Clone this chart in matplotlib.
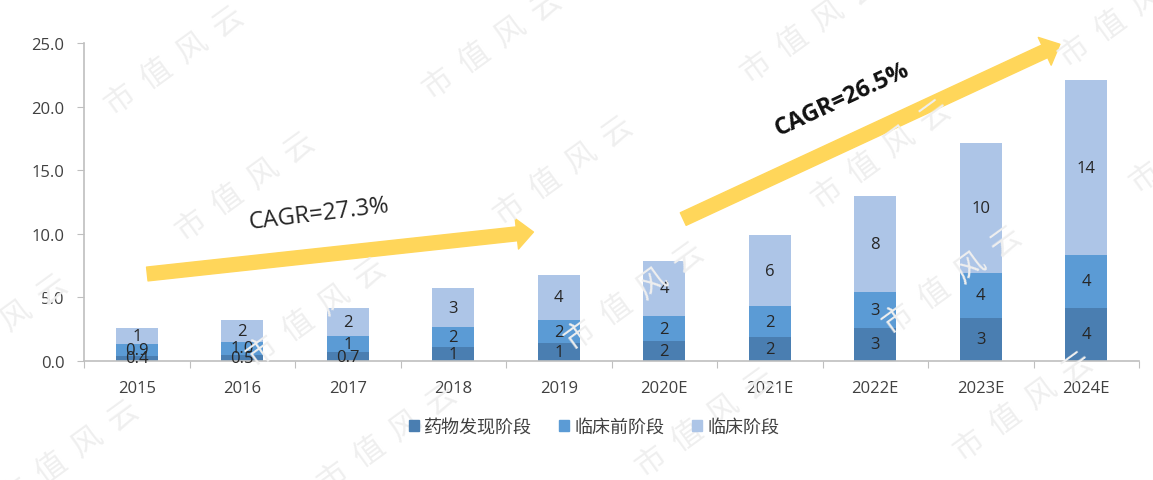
import matplotlib
matplotlib.use("Agg")
import matplotlib.pyplot as plt
from matplotlib.patches import FancyArrowPatch, Patch

plt.rcParams['font.family'] = ['Open Sans', 'Noto Sans CJK SC', 'DejaVu Sans']

# data
years = ["2015", "2016", "2017", "2018", "2019",
         "2020E", "2021E", "2022E", "2023E", "2024E"]
discovery = [0.4, 0.5, 0.7, 1.1, 1.4, 1.6, 1.9, 2.6, 3.4, 4.2]
preclinical = [0.9, 1.0, 1.3, 1.6, 1.8, 1.9, 2.4, 2.8, 3.5, 4.1]
clinical = [1.3, 1.7, 2.2, 3.0, 3.6, 4.4, 5.6, 7.6, 10.2, 13.8]
discovery_labels = ["0.4", "0.5", "0.7", "1", "1", "2", "2", "3", "3", "4"]
preclinical_labels = ["0.9", "1.0", "1", "2", "2", "2", "2", "3", "4", "4"]
clinical_labels = ["1", "2", "2", "3", "4", "4", "6", "8", "10", "14"]
series_names = ["药物发现阶段", "临床前阶段", "临床阶段"]
cagr_texts = ["CAGR=27.3%", "CAGR=26.5%"]

colors = ["#4a7eb1", "#5b9bd5", "#adc5e7"]
yellow = "#ffd65a"
grey = "#bfbfbf"

fig = plt.figure(figsize=(11.53, 4.81), dpi=100)
ax = fig.add_axes([84 / 1153, 1 - 362 / 481, 1055 / 1153, 318 / 481])

# watermark
for i in range(-1, 5):
    for j in range(-1, 4):
        px = 174 + 71 * i + 318 * j
        py = 61 + 126 * i - 16 * j
        if -60 < px < 1220 and -40 < py < 520:
            fig.text(px / 1153, 1 - py / 481, "市  值  风  云", fontsize=22,
                     family=['Noto Sans CJK SC'], fontweight='light',
                     color="#efefef", rotation=36, ha='center', va='center',
                     zorder=0)

x = list(range(len(years)))
bottoms2 = [a + b for a, b in zip(discovery, preclinical)]
stacks = [(discovery, [0] * len(x), discovery_labels),
          (preclinical, discovery, preclinical_labels),
          (clinical, bottoms2, clinical_labels)]

for (vals, bottom, labels), color, name in zip(stacks, colors, series_names):
    bars = ax.bar(x, vals, 0.4, bottom=bottom, color=color, label=name,
                  zorder=2)
    ax.bar_label(bars, labels=labels, label_type='center', fontsize=12,
                 color="#262626", zorder=4)

ax.set_xlim(-0.5, 9.5)
ax.set_ylim(0, 25)
ax.set_yticks([0, 5, 10, 15, 20, 25])
ax.set_yticklabels([f"{v:.1f}" for v in [0, 5, 10, 15, 20, 25]])

ax.set_xticks([i + 0.5 for i in range(-1, 10)])
ax.set_xticklabels([])
ax.set_xticks(x, minor=True)
ax.set_xticklabels(years, minor=True)
ax.tick_params(axis='x', which='major', length=5, color=grey, direction='out')
ax.tick_params(axis='x', which='minor', length=0, pad=14, labelsize=12,
               labelcolor="#404040")
ax.tick_params(axis='y', length=5, color=grey, pad=9, labelsize=12,
               labelcolor="#404040")

for side in ['top', 'right']:
    ax.spines[side].set_visible(False)
for side in ['left', 'bottom']:
    ax.spines[side].set_color(grey)
    ax.spines[side].set_linewidth(1.2)

# CAGR arrows
arrow_style = "simple,head_length=12,head_width=22,tail_width=10"
for start, end in [((0.1, 6.84), (3.76, 10.14)), ((5.18, 11.16), (8.75, 24.9))]:
    arr = FancyArrowPatch(start, end, arrowstyle=arrow_style, color=yellow,
                          mutation_scale=1, shrinkA=0, shrinkB=0,
                          clip_on=False, zorder=3)
    ax.add_patch(arr)

ax.text(1.73, 11.6, cagr_texts[0], fontsize=17, rotation=7, color="#262626",
        ha='center', va='center', rotation_mode='anchor', zorder=5)
ax.text(6.69, 20.6, cagr_texts[1], fontsize=17, rotation=25, color="#111111",
        fontweight='bold', ha='center', va='center', rotation_mode='anchor',
        zorder=5)

handles = [Patch(color=c) for c in colors]
fig.legend(handles, series_names, loc='center', ncol=3,
           bbox_to_anchor=(594 / 1153, 1 - 428 / 481), frameon=False,
           fontsize=13, handlelength=0.55, handleheight=0.55,
           handletextpad=0.3, columnspacing=1.5, labelcolor="#404040")

fig.savefig("out.png", dpi=100)
